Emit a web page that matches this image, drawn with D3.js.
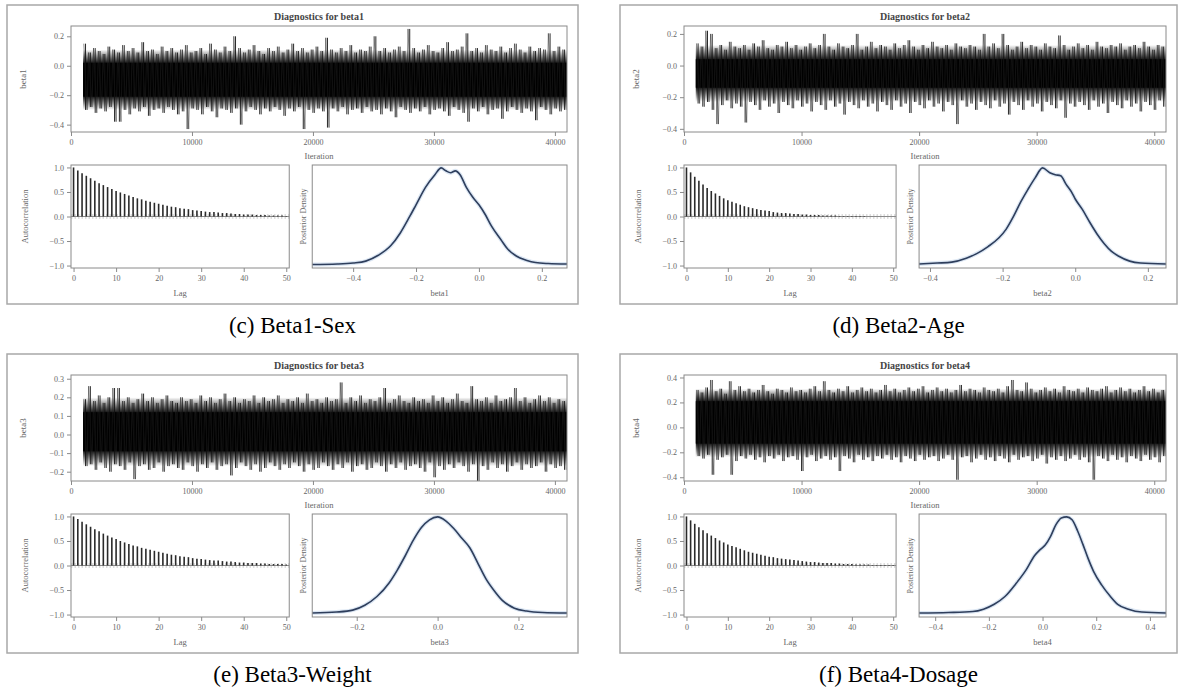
<!DOCTYPE html>
<html>
<head>
<meta charset="utf-8">
<script src="https://d3js.org/d3.v7.min.js"></script>
<style>
  body { margin: 0; background: #fff; }
</style>
</head>
<body>
<script>
// ---- data ----
const params = ["beta1", "beta2", "beta3", "beta4"];
const captions = ["(c) Beta1-Sex", "(d) Beta2-Age", "(e) Beta3-Weight", "(f) Beta4-Dosage"];

const iterTicks = [0, 10000, 20000, 30000, 40000];
const lagTicks = [0, 10, 20, 30, 40, 50];
const acfTicks = [1, 0.5, 0, -0.5, -1];

const traceYTicks = [[0.2, 0, -0.2, -0.4], [0.2, 0, -0.2, -0.4], [0.3, 0.2, 0.1, 0, -0.1, -0.2], [0.4, 0.2, 0, -0.2, -0.4]];
const traceYDomain = [[-0.45, 0.27], [-0.42, 0.25], [-0.25, 0.32], [-0.43, 0.42]];
// solid black band and the wider grey fringe of each chain
const traceCore = [[-0.21, 0.02], [-0.14, 0.04], [-0.09, 0.12], [-0.13, 0.21]];
const traceFringe = [[-0.30, 0.11], [-0.23, 0.13], [-0.17, 0.20], [-0.24, 0.31]];

// per block of 400 iterations (1000..41000): highest and lowest draw, in hundredths
const hi1 = [15,9,12,10,8,13,11,9,14,10, 12,9,16,10,11,8,13,10,12,9, 11,14,9,10,12,8,15,11,9,13, 10,20,12,9,11,14,10,8,12,10, 13,9,11,15,10,12,9,11,13,10, 19,11,9,12,10,14,9,11,10,13, 20,10,12,9,11,13,10,25,12,9, 11,14,10,9,12,16,10,11,13,22, 10,12,9,14,11,10,13,9,12,15, 11,9,13,10,12,11,22,10,13,11];
const lo1 = [-30,-28,-32,-29,-31,-28,-38,-38,-30,-33, -29,-31,-28,-34,-30,-29,-32,-28,-30,-33, -31,-43,-29,-30,-33,-28,-31,-35,-29,-30, -32,-29,-40,-31,-28,-30,-33,-29,-31,-28, -30,-34,-29,-31,-28,-43,-30,-32,-29,-31, -42,-29,-31,-28,-33,-30,-29,-32,-28,-31, -30,-33,-29,-31,-35,-28,-30,-32,-29,-31, -28,-33,-30,-29,-31,-34,-28,-30,-32,-38, -29,-31,-28,-33,-30,-29,-36,-31,-28,-30, -32,-29,-31,-37,-28,-30,-33,-29,-31,-30];
const hi2 = [14,12,22,20,11,13,10,15,12,11, 13,10,14,12,16,11,10,13,12,15, 11,13,10,12,14,11,13,20,12,10, 14,12,11,13,20,10,12,15,11,13, 12,10,14,11,13,16,12,10,13,11, 15,12,11,13,10,14,12,11,13,12, 10,20,12,14,11,20,13,10,12,15, 11,13,12,10,14,12,11,19,13,10, 12,14,11,13,10,15,12,11,13,12, 14,10,12,13,11,15,12,10,13,12];
const lo2 = [-24,-26,-23,-28,-37,-25,-22,-27,-24,-26, -36,-23,-25,-28,-22,-26,-24,-30,-23,-25, -27,-22,-26,-24,-29,-23,-25,-28,-22,-26, -24,-31,-23,-25,-27,-22,-26,-24,-29,-23, -25,-28,-22,-26,-24,-30,-23,-25,-27,-22, -26,-24,-29,-23,-25,-37,-22,-26,-24,-28, -23,-25,-27,-22,-26,-24,-31,-23,-25,-28, -22,-26,-24,-29,-23,-25,-27,-22,-33,-24, -26,-23,-25,-28,-22,-26,-24,-30,-23,-25, -27,-22,-26,-24,-29,-23,-25,-28,-22,-26];
const hi3 = [19,26,18,21,17,20,25,25,18,20, 17,19,22,18,20,17,19,21,18,17, 20,18,19,17,21,18,20,17,19,22, 18,20,17,19,18,21,17,20,18,19, 21,17,19,18,20,17,22,18,19,17, 20,18,19,28,17,20,18,21,17,19, 18,20,25,17,19,21,18,17,20,18, 19,17,21,18,20,17,19,22,18,17, 26,19,18,20,17,21,18,19,20,25, 18,20,17,19,21,18,20,17,19,18];
const lo3 = [-17,-16,-19,-15,-18,-20,-16,-17,-19,-15, -24,-17,-16,-19,-18,-15,-20,-17,-16,-18, -19,-15,-17,-20,-16,-18,-15,-19,-17,-16, -22,-18,-15,-17,-19,-16,-20,-18,-15,-17, -19,-16,-18,-15,-17,-20,-16,-19,-18,-15, -17,-19,-16,-18,-15,-20,-17,-16,-19,-18, -15,-17,-20,-16,-18,-15,-19,-17,-16,-18, -20,-15,-23,-17,-19,-16,-18,-15,-17,-20, -16,-25,-17,-19,-15,-18,-16,-20,-17,-15, -19,-16,-18,-17,-15,-20,-16,-18,-17,-19];
const hi4 = [30,28,32,38,29,31,27,37,30,33, 29,31,28,30,34,29,27,31,30,28, 32,29,30,28,31,33,29,37,30,28, 31,29,33,28,30,32,29,31,28,30, 34,29,31,28,30,32,29,31,33,28, 30,32,29,31,28,30,34,29,31,30, 28,32,30,29,31,28,33,38,30,29, 36,31,28,30,32,29,31,28,33,30, 29,31,28,32,30,29,31,33,28,30, 32,29,31,28,30,33,29,31,28,30];
const lo4 = [-23,-25,-22,-38,-26,-24,-22,-38,-27,-23, -25,-22,-26,-24,-28,-23,-25,-22,-27,-24, -23,-26,-35,-24,-22,-27,-25,-23,-26,-24, -35,-23,-25,-28,-22,-26,-24,-27,-23,-25, -22,-26,-24,-28,-23,-25,-27,-22,-26,-24, -23,-27,-25,-22,-26,-42,-24,-23,-28,-25, -22,-26,-24,-27,-23,-25,-28,-22,-26,-24, -23,-27,-25,-22,-29,-24,-26,-23,-27,-25, -22,-26,-24,-28,-42,-23,-25,-27,-22,-26, -24,-28,-23,-25,-27,-22,-26,-24,-28,-23];

// autocorrelation, lags 0..50
const acf1 = [1.00,0.94,0.88,0.83,0.78,0.73,0.68,0.64,0.60,0.56,0.52,0.49,0.46,0.43,0.40,0.37,0.35,0.32,0.30,0.28,0.26,0.24,0.22,0.20,0.19,0.17,0.16,0.15,0.13,0.12,0.11,0.10,0.09,0.09,0.08,0.07,0.07,0.06,0.05,0.05,0.04,0.04,0.04,0.03,0.03,0.03,0.02,0.02,0.02,0.02,0.01];
const acf2 = [1.00,0.90,0.81,0.73,0.65,0.58,0.52,0.47,0.42,0.37,0.33,0.30,0.27,0.24,0.21,0.19,0.17,0.15,0.13,0.12,0.11,0.09,0.08,0.07,0.07,0.06,0.05,0.05,0.04,0.04,0.03,0.03,0.03,0.02,0.02,0.02,0.02,0.01,0.01,0.01,0.01,0.01,0.01,0.01,0.00,0.00,0.00,0.00,0.00,0.00,0.00];
const acf3 = [1.00,0.95,0.89,0.84,0.79,0.74,0.70,0.65,0.61,0.57,0.54,0.50,0.47,0.44,0.41,0.39,0.36,0.34,0.32,0.30,0.28,0.26,0.24,0.22,0.21,0.19,0.18,0.17,0.15,0.14,0.13,0.12,0.11,0.10,0.10,0.09,0.08,0.08,0.07,0.06,0.06,0.05,0.05,0.05,0.04,0.04,0.03,0.03,0.03,0.03,0.02];
const acf4 = [1.00,0.92,0.85,0.78,0.72,0.66,0.61,0.56,0.51,0.47,0.43,0.40,0.37,0.34,0.31,0.28,0.26,0.24,0.22,0.20,0.18,0.17,0.15,0.14,0.13,0.12,0.11,0.10,0.09,0.08,0.07,0.07,0.06,0.05,0.05,0.05,0.04,0.04,0.03,0.03,0.03,0.02,0.02,0.02,0.02,0.01,0.01,0.01,0.01,0.01,0.01];

// posterior density [value, relative height]
const dens1 = [[-0.53,0.005],[-0.45,0.01],[-0.40,0.02],[-0.36,0.04],[-0.32,0.10],[-0.28,0.20],[-0.25,0.33],[-0.22,0.50],[-0.20,0.62],[-0.17,0.80],[-0.14,0.93],[-0.12,1.0],[-0.105,0.97],[-0.09,0.95],[-0.075,0.97],[-0.06,0.93],[-0.04,0.80],[-0.02,0.70],[0.0,0.62],[0.02,0.52],[0.04,0.40],[0.07,0.26],[0.09,0.17],[0.12,0.09],[0.15,0.05],[0.18,0.025],[0.22,0.015],[0.28,0.01]];
const dens2 = [[-0.43,0.01],[-0.38,0.02],[-0.34,0.03],[-0.30,0.07],[-0.27,0.12],[-0.24,0.19],[-0.21,0.28],[-0.19,0.37],[-0.17,0.50],[-0.15,0.65],[-0.13,0.78],[-0.11,0.90],[-0.09,1.0],[-0.07,0.95],[-0.055,0.93],[-0.04,0.92],[-0.025,0.83],[-0.01,0.75],[0.0,0.68],[0.02,0.57],[0.04,0.44],[0.06,0.32],[0.08,0.22],[0.10,0.14],[0.12,0.09],[0.15,0.04],[0.18,0.02],[0.25,0.01]];
const dens3 = [[-0.31,0.01],[-0.25,0.02],[-0.21,0.04],[-0.18,0.09],[-0.15,0.18],[-0.12,0.32],[-0.10,0.45],[-0.08,0.60],[-0.06,0.76],[-0.04,0.89],[-0.02,0.97],[0.0,1.0],[0.02,0.96],[0.04,0.88],[0.06,0.78],[0.08,0.68],[0.10,0.52],[0.12,0.36],[0.14,0.24],[0.16,0.14],[0.19,0.06],[0.22,0.03],[0.26,0.015],[0.32,0.01]];
const dens4 = [[-0.46,0.01],[-0.35,0.015],[-0.26,0.025],[-0.22,0.05],[-0.18,0.10],[-0.14,0.18],[-0.10,0.31],[-0.06,0.46],[-0.03,0.60],[-0.01,0.66],[0.01,0.71],[0.03,0.80],[0.05,0.92],[0.07,0.99],[0.09,1.0],[0.11,0.97],[0.13,0.86],[0.15,0.72],[0.17,0.57],[0.19,0.44],[0.22,0.30],[0.25,0.19],[0.28,0.10],[0.32,0.05],[0.37,0.02],[0.46,0.01]];
const densDomain = [[-0.53, 0.28], [-0.43, 0.25], [-0.31, 0.32], [-0.46, 0.46]];
const densTicks = [[-0.4, -0.2, 0, 0.2], [-0.4, -0.2, 0, 0.2], [-0.2, 0, 0.2], [-0.4, -0.2, 0, 0.2, 0.4]];

const traceHi = [hi1, hi2, hi3, hi4];
const traceLo = [lo1, lo2, lo3, lo4];
const acfs = [acf1, acf2, acf3, acf4];
const dens = [dens1, dens2, dens3, dens4];

// ---- layout ----
const W = 1179, H = 690;
const frames = [
  {x: 7, y: 5, w: 571, h: 299},
  {x: 620, y: 5, w: 557, h: 299},
  {x: 7, y: 354, w: 571, h: 299},
  {x: 620, y: 354, w: 557, h: 299}
];
const font = "'Liberation Serif', 'Times New Roman', serif";
const gray = "#8a8a8a";
const labelCol = "#666";

const svg = d3.select("body").append("svg")
  .attr("width", W)
  .attr("height", H)
  .style("background", "#fff");
const defs = svg.append("defs");

function styleAxis(g) {
  g.select(".domain").remove();
  g.selectAll(".tick line").attr("stroke", gray);
  g.selectAll(".tick text")
    .attr("fill", labelCol)
    .attr("font-family", font)
    .attr("font-size", "8px");
}

const fmt1 = d => d3.format(".1f")(d);

frames.forEach((f, p) => {
  const g = svg.append("g");

  g.append("rect")
    .attr("x", f.x).attr("y", f.y)
    .attr("width", f.w).attr("height", f.h)
    .attr("fill", "#fff")
    .attr("stroke", "#a8a8a8")
    .attr("stroke-width", 1.5);

  const L = f.x + 64, R = f.x + f.w - 11;
  const T = f.y + 21, B = f.y + 127;

  g.append("text")
    .attr("x", (L + R) / 2).attr("y", f.y + 15)
    .attr("text-anchor", "middle")
    .attr("font-family", font).attr("font-weight", "bold")
    .attr("font-size", "10px").attr("fill", "#444")
    .text("Diagnostics for " + params[p]);

  // ---- trace ----
  const x = d3.scaleLinear().domain([0, 41000]).range([L, R]);
  const y = d3.scaleLinear().domain(traceYDomain[p]).range([B, T]);
  const x0 = x(1000), x1 = x(41000);

  // soft fringe: fades out from the dense band toward the fringe limits
  const fTop = y(traceFringe[p][1]), fBot = y(traceFringe[p][0]);
  const cTop = y(traceCore[p][1]), cBot = y(traceCore[p][0]);
  const grad = defs.append("linearGradient")
    .attr("id", "fringe" + p)
    .attr("x1", 0).attr("y1", 0).attr("x2", 0).attr("y2", 1);
  [[0, 0.0], [(cTop - fTop) / (fBot - fTop), 0.9], [(cBot - fTop) / (fBot - fTop), 0.9], [1, 0.0]]
    .forEach(s => grad.append("stop")
      .attr("offset", s[0]).attr("stop-color", "#000").attr("stop-opacity", s[1]));

  g.append("rect")
    .attr("x", x0).attr("width", x1 - x0)
    .attr("y", fTop).attr("height", fBot - fTop)
    .attr("fill", `url(#fringe${p})`);
  g.append("rect")
    .attr("x", x0).attr("width", x1 - x0)
    .attr("y", cTop).attr("height", cBot - cTop)
    .attr("fill", "#000");

  // jagged path through the block extremes
  const pts = [];
  traceHi[p].forEach((h, i) => {
    pts.push([1000 + 400 * i + 60, h / 100]);
    pts.push([1000 + 400 * i + 330, traceLo[p][i] / 100]);
  });
  g.append("path")
    .attr("d", d3.line().x(d => x(d[0])).y(d => y(d[1]))(pts))
    .attr("fill", "none")
    .attr("stroke", "#222").attr("stroke-opacity", 0.75)
    .attr("stroke-width", 0.7);

  // one needle per block from lowest to highest draw
  g.selectAll(null).data(traceHi[p]).enter().append("line")
    .attr("x1", (d, i) => x(1000 + 400 * i + 200))
    .attr("x2", (d, i) => x(1000 + 400 * i + 200))
    .attr("y1", d => y(d / 100))
    .attr("y2", (d, i) => y(traceLo[p][i] / 100))
    .attr("stroke", "#111").attr("stroke-width", 0.9);

  g.append("rect")
    .attr("x", L).attr("y", T).attr("width", R - L).attr("height", B - T)
    .attr("fill", "none").attr("stroke", gray);

  g.append("g").attr("transform", `translate(${L},0)`)
    .call(d3.axisLeft(y).tickValues(traceYTicks[p]).tickSize(4).tickFormat(fmt1))
    .call(styleAxis);
  g.append("g").attr("transform", `translate(0,${B})`)
    .call(d3.axisBottom(x).tickValues(iterTicks).tickSize(4).tickFormat(d3.format("d")))
    .call(styleAxis);

  g.append("text")
    .attr("transform", `translate(${f.x + 19},${(T + B) / 2}) rotate(-90)`)
    .attr("text-anchor", "middle")
    .attr("font-family", font).attr("font-size", "9px").attr("fill", labelCol)
    .text(params[p]);
  g.append("text")
    .attr("x", (L + R) / 2).attr("y", B + 27)
    .attr("text-anchor", "middle")
    .attr("font-family", font).attr("font-size", "8.5px").attr("fill", labelCol)
    .text("Iteration");

  // ---- autocorrelation ----
  const aT = f.y + 160, aB = f.y + 263;
  const aR = L + (R - L) * 0.44;
  const ax = d3.scaleLinear().domain([-0.6, 50.7]).range([L, aR]);
  const ay = d3.scaleLinear().domain([-1.05, 1.05]).range([aB, aT]);

  g.append("line")
    .attr("x1", L).attr("x2", aR).attr("y1", ay(0)).attr("y2", ay(0))
    .attr("stroke", gray);
  [0.03, -0.03].forEach(v => {
    g.append("line")
      .attr("x1", L).attr("x2", aR).attr("y1", ay(v)).attr("y2", ay(v))
      .attr("stroke", "#bbb").attr("stroke-dasharray", "1.5,2");
  });
  g.selectAll(null).data(acfs[p]).enter().append("line")
    .attr("x1", (d, i) => ax(i)).attr("x2", (d, i) => ax(i))
    .attr("y1", ay(0)).attr("y2", d => ay(d))
    .attr("stroke", "#2a2a2a").attr("stroke-width", 1.6);

  g.append("rect")
    .attr("x", L).attr("y", aT).attr("width", aR - L).attr("height", aB - aT)
    .attr("fill", "none").attr("stroke", gray);
  g.append("g").attr("transform", `translate(${L},0)`)
    .call(d3.axisLeft(ay).tickValues(acfTicks).tickSize(4).tickFormat(fmt1))
    .call(styleAxis);
  g.append("g").attr("transform", `translate(0,${aB})`)
    .call(d3.axisBottom(ax).tickValues(lagTicks).tickSize(4).tickFormat(d3.format("d")))
    .call(styleAxis);

  g.append("text")
    .attr("transform", `translate(${f.x + 21},${(aT + aB) / 2}) rotate(-90)`)
    .attr("text-anchor", "middle")
    .attr("font-family", font).attr("font-size", "8.5px").attr("fill", labelCol)
    .text("Autocorrelation");
  g.append("text")
    .attr("x", (L + aR) / 2).attr("y", aB + 28)
    .attr("text-anchor", "middle")
    .attr("font-family", font).attr("font-size", "8.5px").attr("fill", labelCol)
    .text("Lag");

  // ---- posterior density ----
  const dL = aR + 23, dR = R;
  const dx = d3.scaleLinear().domain(densDomain[p]).range([dL, dR]);
  const dy = d3.scaleLinear().domain([0, 1.03]).range([aB - 3, aT]);

  const dline = d3.line().x(d => dx(d[0])).y(d => dy(d[1])).curve(d3.curveMonotoneX);
  g.append("path")
    .attr("d", dline(dens[p]))
    .attr("fill", "none")
    .attr("stroke", "#dbe6f3").attr("stroke-width", 4);
  g.append("path")
    .attr("d", dline(dens[p]))
    .attr("fill", "none")
    .attr("stroke", "#2e3e5c").attr("stroke-width", 1.6);

  g.append("rect")
    .attr("x", dL).attr("y", aT).attr("width", dR - dL).attr("height", aB - aT)
    .attr("fill", "none").attr("stroke", gray);
  g.append("g").attr("transform", `translate(0,${aB})`)
    .call(d3.axisBottom(dx).tickValues(densTicks[p]).tickSize(4).tickFormat(fmt1))
    .call(styleAxis);

  g.append("text")
    .attr("transform", `translate(${dL - 6},${(aT + aB) / 2}) rotate(-90)`)
    .attr("text-anchor", "middle")
    .attr("font-family", font).attr("font-size", "8px").attr("fill", labelCol)
    .text("Posterior Density");
  g.append("text")
    .attr("x", (dL + dR) / 2).attr("y", aB + 28)
    .attr("text-anchor", "middle")
    .attr("font-family", font).attr("font-size", "8.5px").attr("fill", labelCol)
    .text(params[p]);

  svg.append("text")
    .attr("x", f.x + f.w / 2).attr("y", f.y + 328)
    .attr("text-anchor", "middle")
    .attr("font-family", font).attr("font-size", "23px").attr("fill", "#000")
    .text(captions[p]);
});
</script>
</body>
</html>
